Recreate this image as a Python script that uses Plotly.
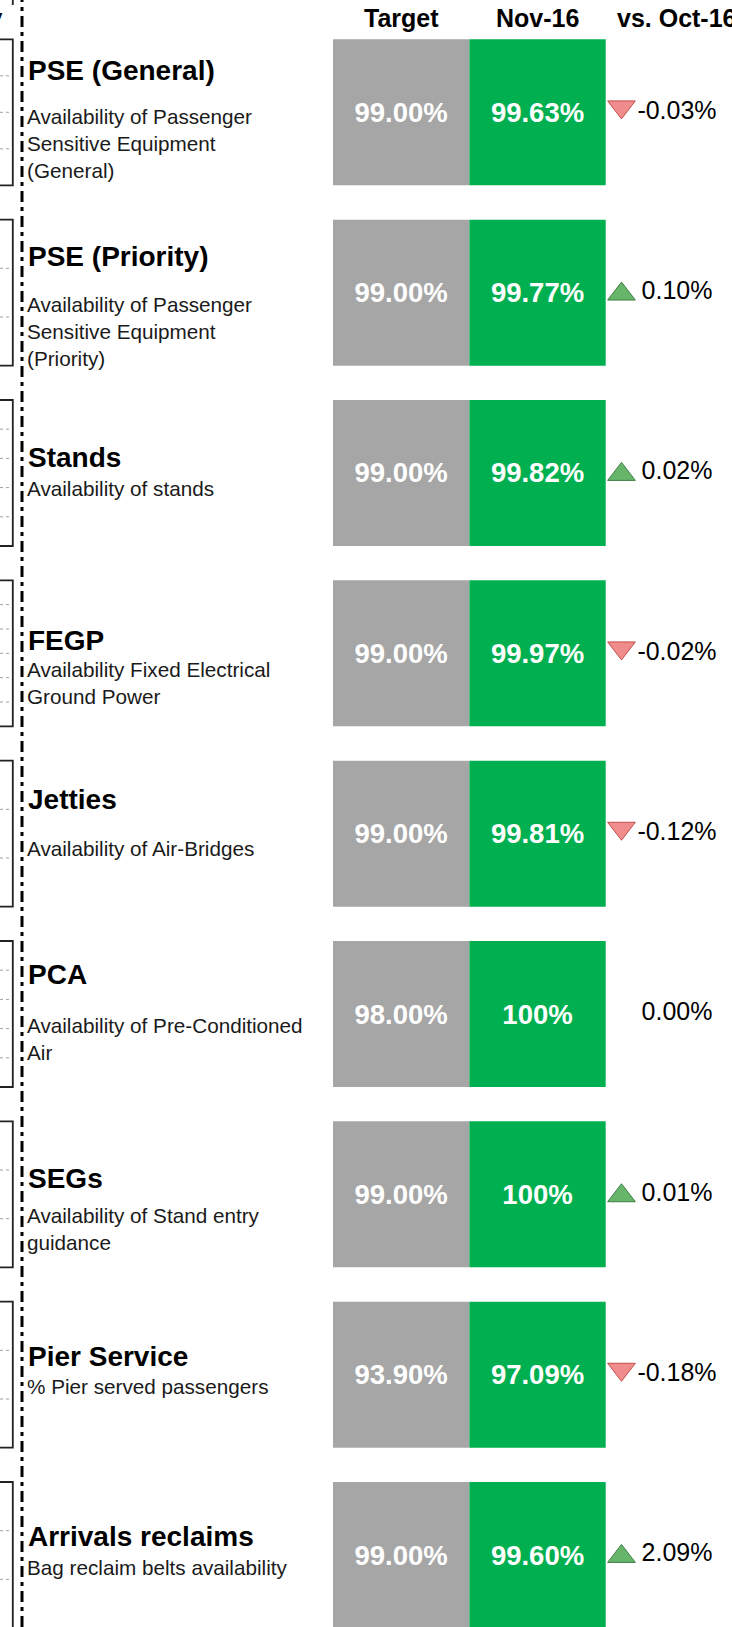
import plotly.graph_objects as go

# ---------------- data ----------------
kpi_names = ["PSE (General)", "PSE (Priority)", "Stands", "FEGP", "Jetties",
             "PCA", "SEGs", "Pier Service", "Arrivals reclaims"]
kpi_descriptions = [
    "Availability of Passenger<br>Sensitive Equipment<br>(General)",
    "Availability of Passenger<br>Sensitive Equipment<br>(Priority)",
    "Availability of stands",
    "Availability Fixed Electrical<br>Ground Power",
    "Availability of Air-Bridges",
    "Availability of Pre-Conditioned<br>Air",
    "Availability of Stand entry<br>guidance",
    "% Pier served passengers",
    "Bag reclaim belts availability",
]
target_pct = [99.00, 99.00, 99.00, 99.00, 99.00, 98.00, 99.00, 93.90, 99.00]
nov16_pct = [99.63, 99.77, 99.82, 99.97, 99.81, 100.00, 100.00, 97.09, 99.60]
change_vs_oct16 = [-0.03, 0.10, 0.02, -0.02, -0.12, 0.00, 0.01, -0.18, 2.09]
column_headers = ["Target", "Nov-16", "vs. Oct-16"]

# ---------------- layout constants (px) ----------------
W, H = 732, 1627
ROW_PITCH = 180.34
FIRST_CENTER = 112.3
BOX_H = 146
COL_W = 136.35
COL0_LEFT = 333
TRI_PX = 621.5
DELTA_PX = 677
HEADER_PX = 18
# per-row vertical offsets of title / description (px, downwards from row centre)
title_offsets = [-41.5, -36, -15.5, -13, -34.5, -39.5, -16, -18, -18.5]
desc_offsets = [31, 39, 16, 30, 15, 25, 34.5, 12, 12.5]
grid_divisions = [4, 3, 5, 6, 3, 5, 3, 3, 3]

FONT = "Liberation Sans, Arial, sans-serif"
GRAY = "#A6A6A6"
GREEN = "#00B050"

n = len(kpi_names)
rows = list(range(n))
tri_x = (TRI_PX - COL0_LEFT) / COL_W
delta_x = (DELTA_PX - COL0_LEFT) / COL_W
bar_w = BOX_H / ROW_PITCH
px_to_y = 1.0 / ROW_PITCH


def fmt_pct(v):
    return "100%" if abs(v - 100) < 1e-9 else f"{v:.2f}%"


fig = go.Figure()

fig.add_trace(go.Bar(
    orientation="h", y=rows, x=[1] * n, base=[0] * n, width=bar_w,
    marker=dict(color=GRAY, line=dict(width=0)),
    text=[fmt_pct(v) for v in target_pct], textposition="inside",
    insidetextanchor="middle", textangle=0, constraintext="none",
    textfont=dict(family=FONT, size=27.5, color="white", weight="bold"),
    hoverinfo="skip", showlegend=False,
))
fig.add_trace(go.Bar(
    orientation="h", y=rows, x=[1] * n, base=[1] * n, width=bar_w,
    marker=dict(color=GREEN, line=dict(width=0)),
    text=[fmt_pct(v) for v in nov16_pct], textposition="inside",
    insidetextanchor="middle", textangle=0, constraintext="none",
    textfont=dict(family=FONT, size=27.5, color="white", weight="bold"),
    hoverinfo="skip", showlegend=False,
))

up_rows = [i for i in rows if change_vs_oct16[i] > 0]
down_rows = [i for i in rows if change_vs_oct16[i] < 0]
fig.add_trace(go.Scatter(
    x=[tri_x] * len(up_rows), y=[i + 1.4 * px_to_y for i in up_rows],
    mode="markers",
    marker=dict(symbol="triangle-up", size=24, color="#67B56B",
                line=dict(color="#3F7F45", width=1)),
    hoverinfo="skip", showlegend=False,
))
fig.add_trace(go.Scatter(
    x=[tri_x] * len(down_rows), y=[i - 5.4 * px_to_y for i in down_rows],
    mode="markers",
    marker=dict(symbol="triangle-down", size=24, color="#F08C8C",
                line=dict(color="#C0504D", width=1)),
    hoverinfo="skip", showlegend=False,
))
fig.add_trace(go.Scatter(
    x=[delta_x] * n, y=rows, mode="text",
    text=[f"{v:.2f}%" for v in change_vs_oct16], textposition="middle center",
    textfont=dict(family=FONT, size=25, color="black"),
    hoverinfo="skip", showlegend=False,
))

annotations = []
for j, h in enumerate(column_headers):
    hx = [0.5, 1.5, delta_x][j]
    annotations.append(dict(
        x=hx, xref="x", y=1 - HEADER_PX / H, yref="paper",
        text=h, showarrow=False, xanchor="center", yanchor="middle",
        font=dict(family=FONT, size=25, color="black", weight="bold"),
    ))
for i in rows:
    annotations.append(dict(
        x=26 / W, xref="paper", y=i, yref="y", yshift=-title_offsets[i],
        text=kpi_names[i], showarrow=False, xanchor="left", yanchor="middle",
        align="left", font=dict(family=FONT, size=28, color="black", weight="bold"),
    ))
    annotations.append(dict(
        x=25 / W, xref="paper", y=i, yref="y", yshift=-desc_offsets[i],
        text=kpi_descriptions[i], showarrow=False, xanchor="left", yanchor="middle",
        align="left", font=dict(family=FONT, size=20.7, color="#1a1a1a"),
    ))
# cut-off text at the very top-left
annotations.append(dict(
    x=5 / W, xref="paper", y=1 - 17 / H, yref="paper", text="y",
    showarrow=False, xanchor="right", yanchor="middle",
    font=dict(family=FONT, size=24, color="black", weight="bold"),
))

shapes = []
hw = bar_w / 2
for i in rows:
    shapes.append(dict(type="rect", xref="paper", yref="y",
                       x0=-0.05, x1=12.8 / W, y0=i - hw, y1=i + hw,
                       line=dict(color="#222222", width=1.8), fillcolor="rgba(0,0,0,0)"))
    d = grid_divisions[i]
    for k in range(1, d):
        yk = i - hw + k * (2 * hw) / d
        shapes.append(dict(type="line", xref="paper", yref="y",
                           x0=0, x1=11 / W, y0=yk, y1=yk,
                           line=dict(color="#A0A0A0", width=1, dash="3px,3px")))
shapes.append(dict(type="line", xref="paper", yref="paper",
                   x0=12.8 / W, x1=12.8 / W, y0=1, y1=1 - 5 / H,
                   line=dict(color="#222222", width=1.8)))
shapes.append(dict(type="line", xref="paper", yref="paper",
                   x0=22 / W, x1=22 / W, y0=0, y1=1,
                   line=dict(color="black", width=3, dash="11px,5px,4px,5px")))

fig.update_layout(
    width=W, height=H, margin=dict(l=0, r=0, t=0, b=0),
    paper_bgcolor="white", plot_bgcolor="white",
    barmode="overlay", showlegend=False,
    xaxis=dict(range=[-COL0_LEFT / COL_W, (W - COL0_LEFT) / COL_W],
               visible=False, fixedrange=True),
    yaxis=dict(range=[(H - FIRST_CENTER) / ROW_PITCH, -FIRST_CENTER / ROW_PITCH],
               visible=False, fixedrange=True),
    annotations=annotations, shapes=shapes,
)

fig.write_html(
    "out.html",
    config={"displayModeBar": False},
    post_script="document.body.style.margin='0';document.body.style.overflow='hidden';",
)
